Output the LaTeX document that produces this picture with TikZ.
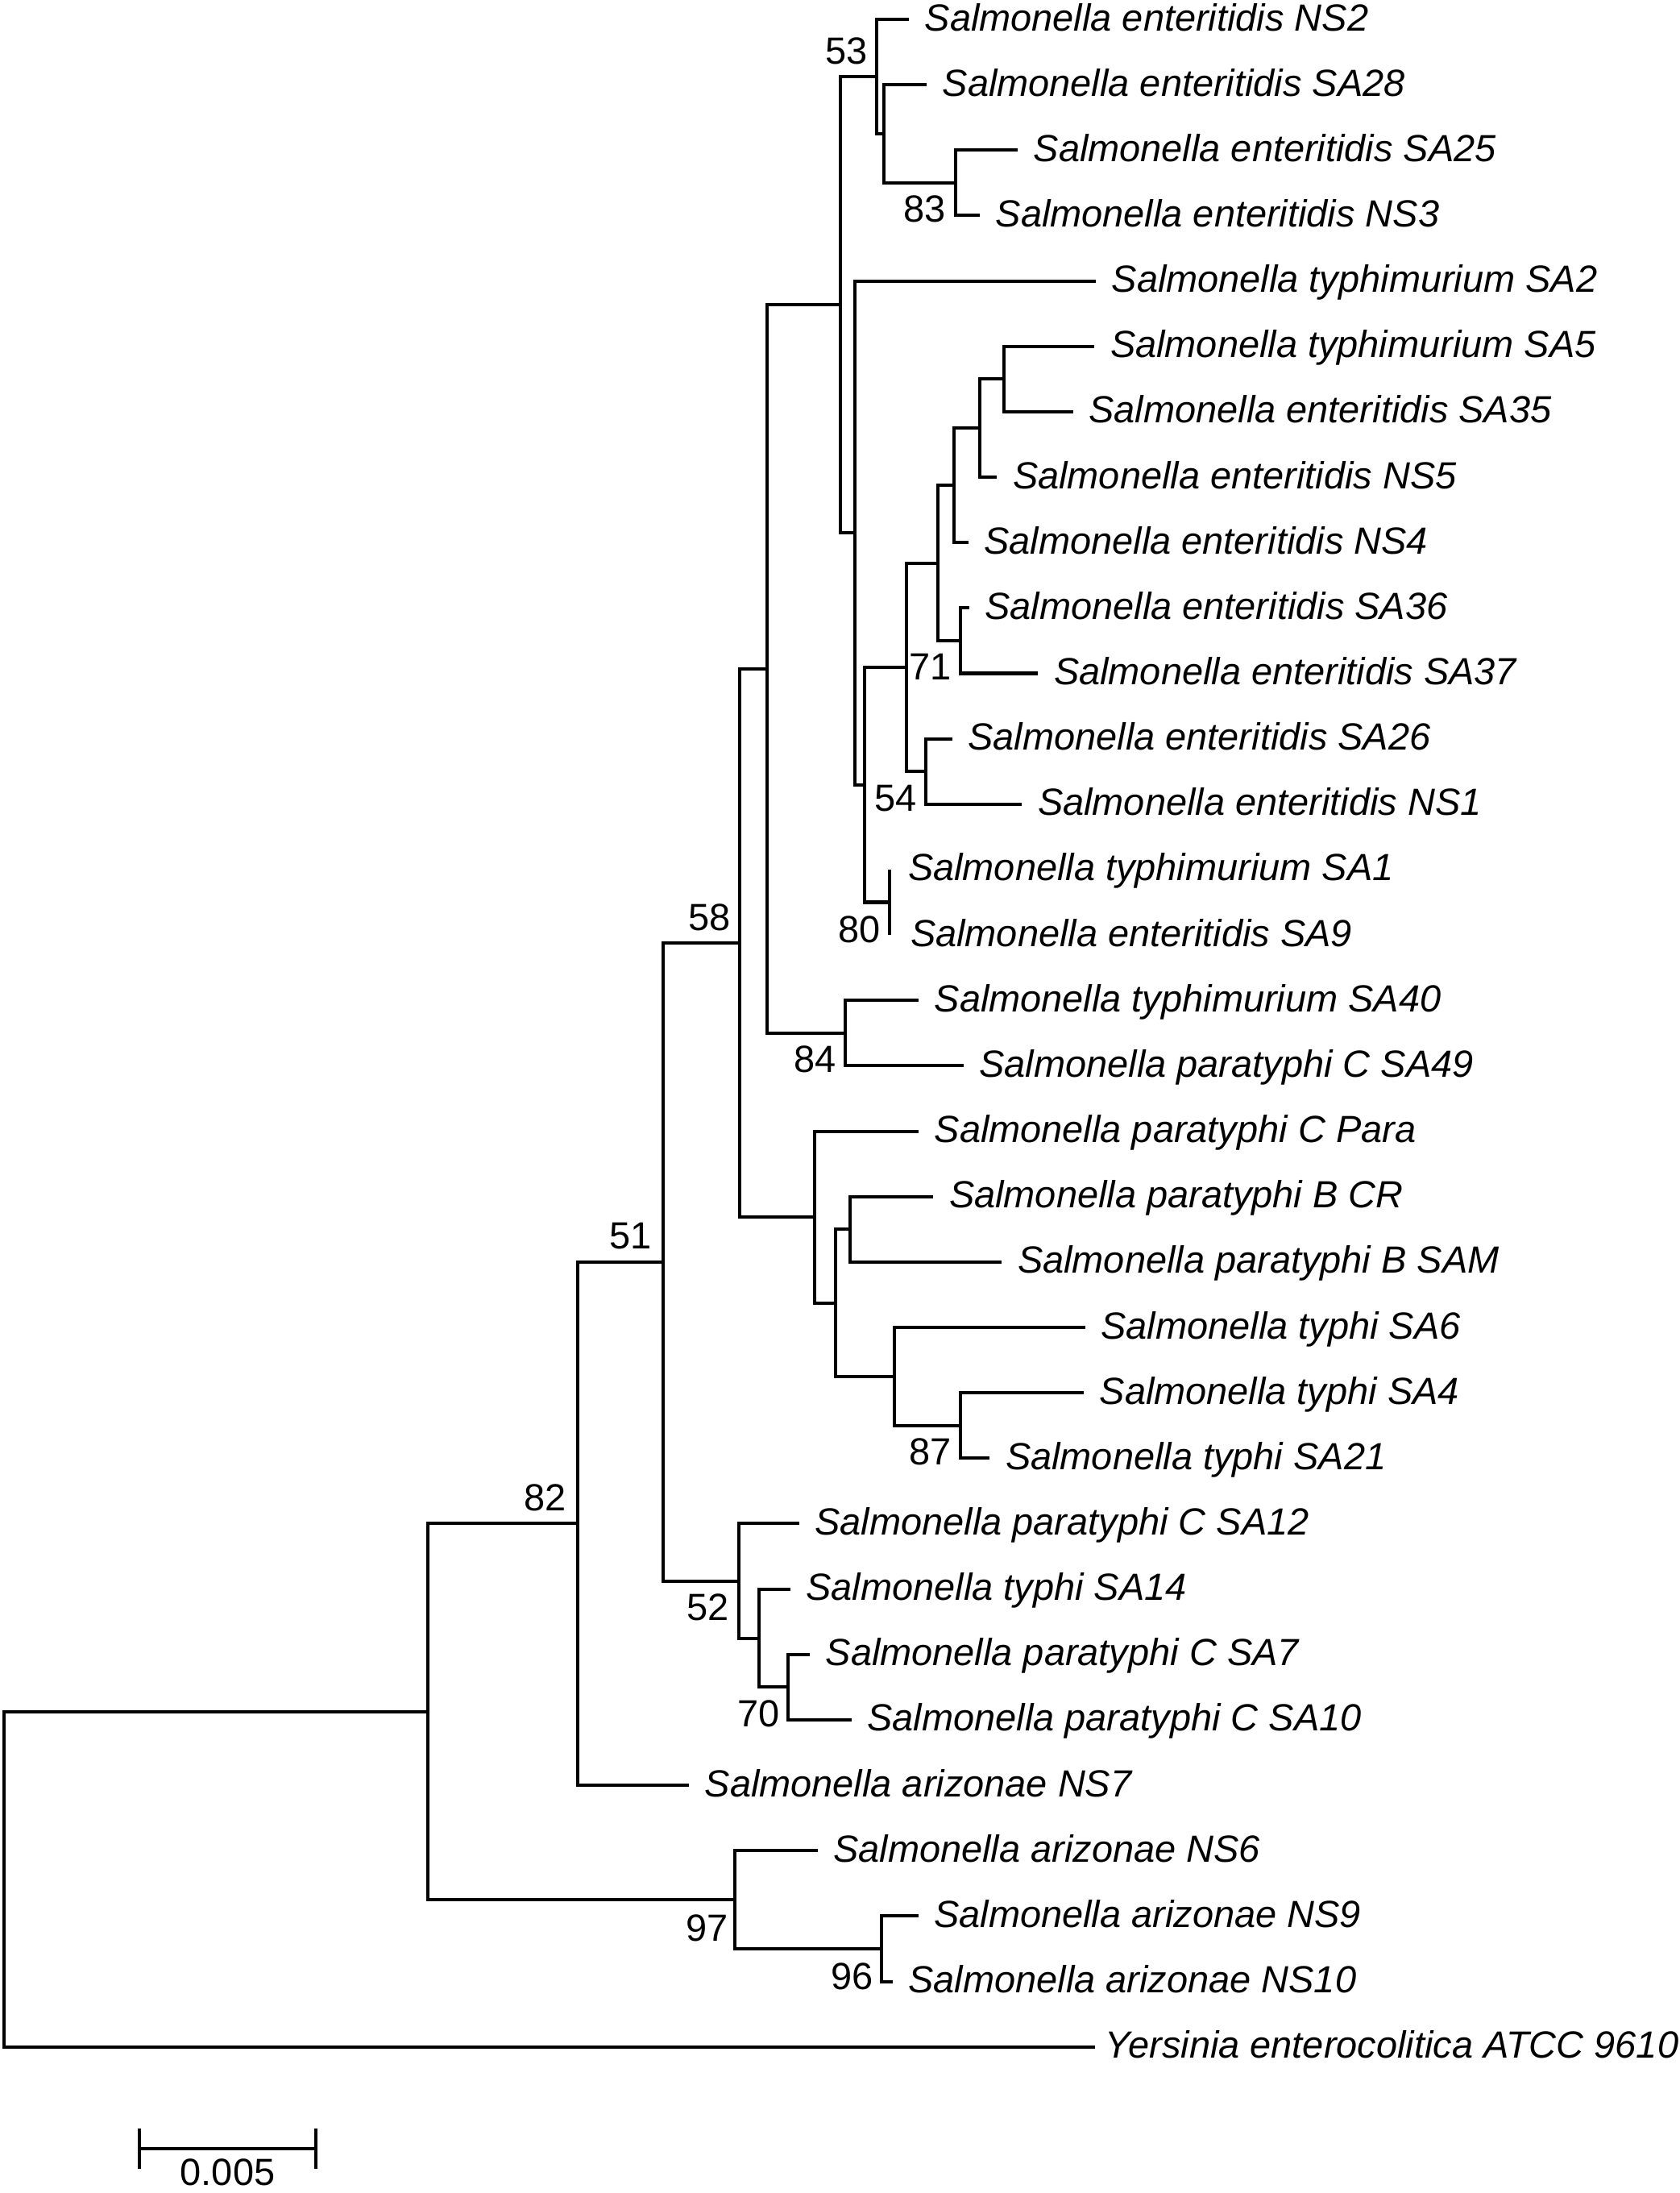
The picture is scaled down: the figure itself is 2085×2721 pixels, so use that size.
\documentclass[tikz,border=0pt]{standalone}
\usepackage{fontspec}
\setmainfont{Liberation Sans}
\begin{document}
\begin{tikzpicture}[x=0.01cm, y=-0.01cm,
  br/.style={line width=1.15pt, line join=miter},
  leaf/.style={anchor=base west, inner sep=0pt, font=\fontsize{13.35}{15}\selectfont\itshape},
  boot/.style={anchor=base east, inner sep=0pt, font=\fontsize{13.35}{15}\selectfont},
  scl/.style={anchor=base, inner sep=0pt, font=\fontsize{13.35}{15}\selectfont}]
\useasboundingbox (0,0) rectangle (2085,2721);
\fill[white] (0,0) rectangle (2085,2721);
% ---------- internal nodes ----------
\coordinate (n83) at (1185.7,226.9);
\coordinate (Y)   at (1097.3,166.0);
\coordinate (X)   at (1088.3,95.0);
\coordinate (Z)   at (1246,470.3);
\coordinate (W)   at (1216,531.2);
\coordinate (V)   at (1184.3,602.2);
\coordinate (U)   at (1192.3,794.9);
\coordinate (T)   at (1164.3,698.6);
\coordinate (n54) at (1149,957.2);
\coordinate (S)   at (1125,827.9);
\coordinate (n80) at (1104.3,1119.5);
\coordinate (R)   at (1072.7,973.7);
\coordinate (Q)   at (1061,661.2);
\coordinate (P1)  at (1043.3,378.1);
\coordinate (n84) at (1049,1281.8);
\coordinate (P0)  at (952.3,830.0);
\coordinate (C3)  at (1055,1525.3);
\coordinate (n87) at (1192.3,1768.7);
\coordinate (C4)  at (1110,1707.9);
\coordinate (C2)  at (1036.7,1616.6);
\coordinate (C1)  at (1011,1510.1);
\coordinate (n58) at (918,1170.1);
\coordinate (n70) at (977.7,2093.3);
\coordinate (N2)  at (942.3,2032.5);
\coordinate (n52) at (916.7,1961.5);
\coordinate (n51) at (823,1565.8);
\coordinate (n82) at (717,1890.4);
\coordinate (n96) at (1094,2417.9);
\coordinate (n97) at (912,2357.1);
\coordinate (RC)  at (531,2123.8);
\coordinate (root) at (5,2331.7);
% ---------- leaf tips ----------
\coordinate (t0)  at (1128,24);
\coordinate (t1)  at (1150,105.15);
\coordinate (t2)  at (1263,186.3);
\coordinate (t3)  at (1216,267.45);
\coordinate (t4)  at (1360,348.6);
\coordinate (t5)  at (1358.3,429.75);
\coordinate (t6)  at (1331.7,510.9);
\coordinate (t7)  at (1237.3,592.05);
\coordinate (t8)  at (1201.7,673.2);
\coordinate (t9)  at (1202.7,754.35);
\coordinate (t10) at (1288.3,835.5);
\coordinate (t11) at (1181.7,916.65);
\coordinate (t12) at (1268.3,997.8);
\coordinate (t13) at (1104.3,1078.95);
\coordinate (t14) at (1104.3,1160.1);
\coordinate (t15) at (1140,1241.25);
\coordinate (t16) at (1195.7,1322.4);
\coordinate (t17) at (1140,1403.55);
\coordinate (t18) at (1158.3,1484.7);
\coordinate (t19) at (1243.3,1565.85);
\coordinate (t20) at (1346.7,1647);
\coordinate (t21) at (1345,1728.15);
\coordinate (t22) at (1228.3,1809.3);
\coordinate (t23) at (991.7,1890.45);
\coordinate (t24) at (980.7,1971.6);
\coordinate (t25) at (1005,2052.75);
\coordinate (t26) at (1056.7,2133.9);
\coordinate (t27) at (855,2215.05);
\coordinate (t28) at (1014.6,2296.2);
\coordinate (t29) at (1139.6,2377.35);
\coordinate (t30) at (1107.7,2458.5);
\coordinate (t31) at (1359,2539.65);
% ---------- leaf labels ----------
\node[leaf] (l0)  at ([shift={(19,14)}]t0)  {Salmonella enteritidis NS2};
\node[leaf] (l1)  at ([shift={(19,14)}]t1)  {Salmonella enteritidis SA28};
\node[leaf] (l2)  at ([shift={(19,14)}]t2)  {Salmonella enteritidis SA25};
\node[leaf] (l3)  at ([shift={(19,14)}]t3)  {Salmonella enteritidis NS3};
\node[leaf] (l4)  at ([shift={(19,14)}]t4)  {Salmonella typhimurium SA2};
\node[leaf] (l5)  at ([shift={(19,14)}]t5)  {Salmonella typhimurium SA5};
\node[leaf] (l6)  at ([shift={(19,14)}]t6)  {Salmonella enteritidis SA35};
\node[leaf] (l7)  at ([shift={(19,14)}]t7)  {Salmonella enteritidis NS5};
\node[leaf] (l8)  at ([shift={(19,14)}]t8)  {Salmonella enteritidis NS4};
\node[leaf] (l9)  at ([shift={(19,14)}]t9)  {Salmonella enteritidis SA36};
\node[leaf] (l10) at ([shift={(19,14)}]t10) {Salmonella enteritidis SA37};
\node[leaf] (l11) at ([shift={(19,14)}]t11) {Salmonella enteritidis SA26};
\node[leaf] (l12) at ([shift={(19,14)}]t12) {Salmonella enteritidis NS1};
\node[leaf] (l13) at ([shift={(22,14)}]t13) {Salmonella typhimurium SA1};
\node[leaf] (l14) at ([shift={(25,14)}]t14) {Salmonella enteritidis SA9};
\node[leaf] (l15) at ([shift={(19,14)}]t15) {Salmonella typhimurium SA40};
\node[leaf] (l16) at ([shift={(19,14)}]t16) {Salmonella paratyphi C SA49};
\node[leaf] (l17) at ([shift={(19,14)}]t17) {Salmonella paratyphi C Para};
\node[leaf] (l18) at ([shift={(19,14)}]t18) {Salmonella paratyphi B CR};
\node[leaf] (l19) at ([shift={(19,14)}]t19) {Salmonella paratyphi B SAM};
\node[leaf] (l20) at ([shift={(19,14)}]t20) {Salmonella typhi SA6};
\node[leaf] (l21) at ([shift={(19,14)}]t21) {Salmonella typhi SA4};
\node[leaf] (l22) at ([shift={(19,14)}]t22) {Salmonella typhi SA21};
\node[leaf] (l23) at ([shift={(19,14)}]t23) {Salmonella paratyphi C SA12};
\node[leaf] (l24) at ([shift={(19,14)}]t24) {Salmonella typhi SA14};
\node[leaf] (l25) at ([shift={(19,14)}]t25) {Salmonella paratyphi C SA7};
\node[leaf] (l26) at ([shift={(19,14)}]t26) {Salmonella paratyphi C SA10};
\node[leaf] (l27) at ([shift={(19,14)}]t27) {Salmonella arizonae NS7};
\node[leaf] (l28) at ([shift={(19,14)}]t28) {Salmonella arizonae NS6};
\node[leaf] (l29) at ([shift={(19,14)}]t29) {Salmonella arizonae NS9};
\node[leaf] (l30) at ([shift={(19,14)}]t30) {Salmonella arizonae NS10};
\node[leaf] (l31) at ([shift={(12,14)}]t31) {Yersinia enterocolitica ATCC 9610};
% ---------- branches ----------
\draw[br] (n83) |- (t2);  \draw[br] (n83) |- (t3);
\draw[br] (Y) |- (t1);    \draw[br] (Y) |- (n83);
\draw[br] (X) |- (t0);    \draw[br] (X) |- (Y);
\draw[br] (Z) |- (t5);    \draw[br] (Z) |- (t6);
\draw[br] (W) |- (Z);     \draw[br] (W) |- (t7);
\draw[br] (V) |- (W);     \draw[br] (V) |- (t8);
\draw[br] (U) |- (t9);    \draw[br] (U) |- (t10);
\draw[br] (T) |- (V);     \draw[br] (T) |- (U);
\draw[br] (n54) |- (t11); \draw[br] (n54) |- (t12);
\draw[br] (S) |- (T);     \draw[br] (S) |- (n54);
\draw[br] (n80) |- (t13); \draw[br] (n80) |- (t14);
\draw[br] (R) |- (S);     \draw[br] (R) |- (n80);
\draw[br] (Q) |- (t4);    \draw[br] (Q) |- (R);
\draw[br] (P1) |- (X);    \draw[br] (P1) |- (Q);
\draw[br] (n84) |- (t15); \draw[br] (n84) |- (t16);
\draw[br] (P0) |- (P1);   \draw[br] (P0) |- (n84);
\draw[br] (C3) |- (t18);  \draw[br] (C3) |- (t19);
\draw[br] (n87) |- (t21); \draw[br] (n87) |- (t22);
\draw[br] (C4) |- (t20);  \draw[br] (C4) |- (n87);
\draw[br] (C2) |- (C3);   \draw[br] (C2) |- (C4);
\draw[br] (C1) |- (t17);  \draw[br] (C1) |- (C2);
\draw[br] (n58) |- (P0);  \draw[br] (n58) |- (C1);
\draw[br] (n70) |- (t25); \draw[br] (n70) |- (t26);
\draw[br] (N2) |- (t24);  \draw[br] (N2) |- (n70);
\draw[br] (n52) |- (t23); \draw[br] (n52) |- (N2);
\draw[br] (n51) |- (n58); \draw[br] (n51) |- (n52);
\draw[br] (n82) |- (n51); \draw[br] (n82) |- (t27);
\draw[br] (n96) |- (t29); \draw[br] (n96) |- (t30);
\draw[br] (n97) |- (t28); \draw[br] (n97) |- (n96);
\draw[br] (RC) |- (n82);  \draw[br] (RC) |- (n97);
\draw[br] (root) |- (RC); \draw[br] (root) |- (t31);
% ---------- bootstrap values ----------
\node[boot] (b53) at ([shift={(-11,-16)}]X)   {53};
\node[boot] (b83) at ([shift={(-11,49)}]n83)  {83};
\node[boot] (b71) at ([shift={(-11,49)}]U)    {71};
\node[boot] (b54) at ([shift={(-11,49)}]n54)  {54};
\node[boot] (b80) at ([shift={(-11,50)}]n80)  {80};
\node[boot] (b84) at ([shift={(-11,49)}]n84)  {84};
\node[boot] (b58) at ([shift={(-11,-16)}]n58) {58};
\node[boot] (b87) at ([shift={(-11,49)}]n87)  {87};
\node[boot] (b52) at ([shift={(-11,49)}]n52)  {52};
\node[boot] (b70) at ([shift={(-9,49)}]n70)   {70};
\node[boot] (b51) at ([shift={(-14,-16)}]n51) {51};
\node[boot] (b82) at ([shift={(-14,-16)}]n82) {82};
\node[boot] (b97) at ([shift={(-8,51)}]n97)   {97};
\node[boot] (b96) at ([shift={(-10,51)}]n96)  {96};
% ---------- scale bar ----------
\coordinate (sbL) at (173,2666);
\coordinate (sbR) at (392,2666);
\draw[br] (sbL) -- (sbR);
\draw[br] ([shift={(0,-25)}]sbL) -- ([shift={(0,25)}]sbL);
\draw[br] ([shift={(0,-25)}]sbR) -- ([shift={(0,25)}]sbR);
\node[scl] (sblab) at ([shift={(109.5,45)}]sbL) {0.005};
\end{tikzpicture}
\end{document}
